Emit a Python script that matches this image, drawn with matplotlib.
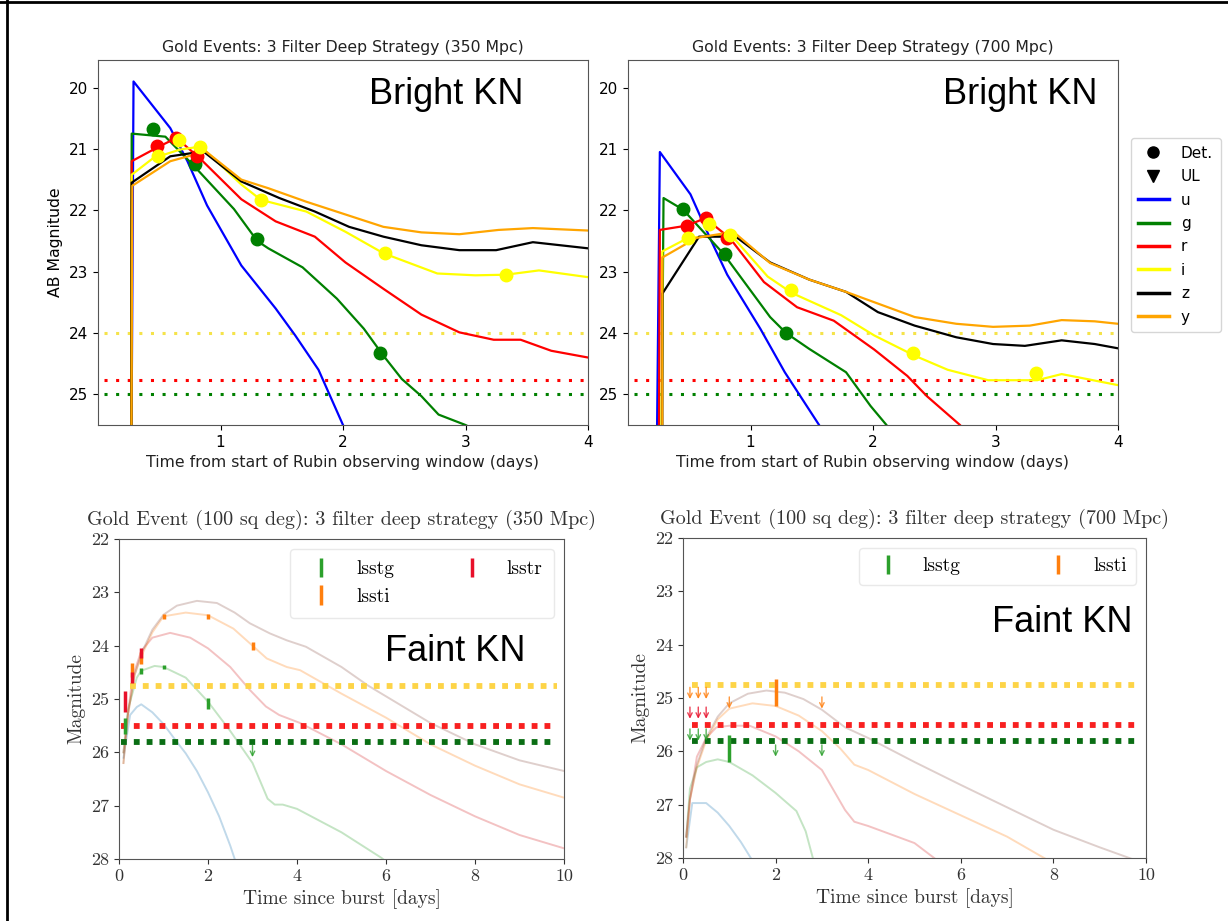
import matplotlib
matplotlib.use("Agg")
import matplotlib.pyplot as plt
from matplotlib.lines import Line2D

# ---------------- top row: bright KN, model curves (days, AB mag) ----------------
tl_u = [(0.27, 27.0), (0.29, 19.9), (0.59, 20.66), (0.73, 21.2), (0.89, 21.92), (1.17, 22.9),
        (1.45, 23.6), (1.61, 24.04), (1.8, 24.6), (2.0, 25.5), (2.1, 26.0)]
tl_g = [(0.27, 27.0), (0.275, 20.75), (0.55, 20.8), (0.78, 21.27), (1.11, 21.98), (1.3, 22.5),
        (1.39, 22.62), (1.67, 22.93), (1.95, 23.44), (2.17, 23.93), (2.33, 24.37), (2.48, 24.75),
        (2.64, 25.03), (2.78, 25.33), (3.0, 25.5), (3.2, 25.7)]
tl_r = [(0.27, 27.0), (0.275, 21.2), (0.48, 20.98), (0.64, 20.82), (0.83, 21.15), (1.17, 21.82),
        (1.45, 22.18), (1.77, 22.43), (2.02, 22.85), (2.33, 23.28), (2.64, 23.7), (2.95, 23.99),
        (3.23, 24.11), (3.45, 24.11), (3.7, 24.29), (4.0, 24.4)]
tl_i = [(0.27, 27.0), (0.275, 21.42), (0.45, 21.15), (0.67, 21.01), (0.84, 20.96), (1.17, 21.58),
        (1.33, 21.83), (1.7, 22.02), (2.02, 22.35), (2.33, 22.7), (2.77, 23.03), (3.08, 23.06),
        (3.33, 23.05), (3.6, 22.98), (4.0, 23.09)]
tl_z = [(0.27, 27.0), (0.275, 21.55), (0.59, 21.12), (0.86, 21.04), (1.17, 21.53), (1.48, 21.8),
        (1.77, 22.02), (2.05, 22.27), (2.33, 22.43), (2.64, 22.57), (2.95, 22.65), (3.25, 22.65),
        (3.55, 22.52), (4.0, 22.62)]
tl_y = [(0.27, 27.0), (0.28, 21.6), (0.59, 21.2), (0.88, 21.04), (1.17, 21.5), (1.39, 21.64),
        (1.7, 21.86), (2.33, 22.27), (2.64, 22.36), (2.95, 22.39), (3.27, 22.32), (3.55, 22.29),
        (4.0, 22.33)]

tr_u = [(0.23, 27.0), (0.26, 21.05), (0.51, 21.74), (0.68, 22.5), (0.81, 23.05), (1.08, 23.93),
        (1.28, 24.64), (1.56, 25.5), (1.7, 26.0)]
tr_g = [(0.27, 27.0), (0.29, 21.8), (0.45, 21.99), (0.78, 22.71), (1.16, 23.74), (1.29, 24.0),
        (1.48, 24.26), (1.78, 24.64), (1.98, 25.19), (2.11, 25.5), (2.2, 25.8)]
tr_r = [(0.25, 27.0), (0.26, 22.32), (0.48, 22.25), (0.63, 22.13), (0.83, 22.45), (1.11, 23.17),
        (1.38, 23.58), (1.68, 23.8), (2.01, 24.27), (2.28, 24.7), (2.44, 25.03), (2.71, 25.5),
        (2.8, 25.7)]
tr_i = [(0.27, 27.0), (0.28, 22.67), (0.49, 22.45), (0.84, 22.4), (1.14, 23.08), (1.34, 23.35),
        (1.74, 23.71), (2.01, 24.04), (2.34, 24.37), (2.61, 24.6), (2.94, 24.77), (3.34, 24.77),
        (3.54, 24.67), (4.0, 24.85)]
tr_z = [(0.28, 27.0), (0.28, 23.36), (0.58, 22.43), (0.88, 22.43), (1.16, 22.85), (1.48, 23.13),
        (1.78, 23.33), (2.04, 23.66), (2.34, 23.88), (2.68, 24.07), (2.98, 24.18), (3.24, 24.21),
        (3.54, 24.12), (3.81, 24.18), (4.0, 24.25)]
tr_y = [(0.28, 27.0), (0.28, 22.77), (0.56, 22.45), (0.86, 22.35), (1.16, 22.86), (1.48, 23.13),
        (1.78, 23.33), (2.34, 23.74), (2.68, 23.85), (2.98, 23.9), (3.28, 23.88), (3.54, 23.79),
        (3.81, 23.81), (4.0, 23.85)]

# detections
tl_det_g = [(0.45, 20.68), (0.79, 21.25), (1.3, 22.47), (2.3, 24.33)]
tl_det_r = [(0.48, 20.96), (0.64, 20.82), (0.81, 21.12)]
tl_det_i = [(0.49, 21.12), (0.66, 20.86), (0.83, 20.97), (1.33, 21.83), (2.34, 22.7), (3.33, 23.05)]
tr_det_g = [(0.45, 21.98), (0.79, 22.71), (1.29, 24.0)]
tr_det_r = [(0.48, 22.26), (0.64, 22.13), (0.81, 22.45)]
tr_det_i = [(0.49, 22.45), (0.66, 22.22), (0.83, 22.4), (1.33, 23.3), (2.33, 24.33), (3.33, 24.66)]

bright_filters = ["u", "g", "r", "i", "z", "y"]
bright_colors = ["blue", "green", "red", "yellow", "black", "orange"]
bright_depths = [24.0, 24.77, 25.0]          # i, r, g limiting mags
bright_depth_colors = ["#f5e34a", "red", "green"]

# ---------------- bottom row: faint KN, model curves ----------------
bl_u = [(0.1, 26.1), (0.25, 25.3), (0.4, 25.15), (0.5, 25.1), (0.75, 25.25), (1.0, 25.47),
        (1.25, 25.75), (1.5, 26.02), (1.75, 26.35), (2.0, 26.75), (2.25, 27.2), (2.5, 27.75),
        (2.62, 28.05)]
bl_g = [(0.1, 26.0), (0.2, 25.2), (0.4, 24.6), (0.5, 24.47), (0.8, 24.38), (1.0, 24.4), (1.5, 24.6),
        (2.0, 25.05), (2.5, 25.6), (3.0, 26.2), (3.34, 26.87), (3.5, 26.98), (3.68, 26.98),
        (4.0, 27.06), (5.0, 27.5), (5.9, 27.98), (6.0, 28.05)]
bl_r = [(0.1, 26.0), (0.3, 24.6), (0.5, 24.1), (0.75, 23.85), (1.15, 23.76), (1.6, 23.85),
        (2.0, 24.05), (2.5, 24.4), (2.94, 24.83), (3.3, 25.14), (3.6, 25.3), (4.07, 25.45),
        (5.0, 25.85), (6.0, 26.35), (7.0, 26.8), (8.0, 27.2), (9.0, 27.55), (10.0, 27.8)]
bl_i = [(0.1, 26.2), (0.2, 25.3), (0.35, 24.55), (0.5, 24.2), (0.75, 23.75), (1.0, 23.45),
        (1.5, 23.38), (2.0, 23.43), (2.57, 23.68), (3.0, 24.0), (3.32, 24.24), (3.77, 24.4),
        (4.07, 24.46), (5.0, 24.9), (6.0, 25.35), (7.0, 25.85), (8.0, 26.25), (9.0, 26.6),
        (10.0, 26.85)]
bl_z = [(0.1, 26.2), (0.2, 25.3), (0.35, 24.55), (0.5, 24.15), (0.75, 23.7), (1.0, 23.42),
        (1.3, 23.25), (1.75, 23.16), (2.2, 23.2), (2.6, 23.38), (2.94, 23.58), (3.39, 23.77),
        (3.77, 23.9), (4.2, 24.02), (5.0, 24.4), (5.6, 24.75), (6.0, 24.95), (7.0, 25.45),
        (8.0, 25.85), (9.0, 26.15), (10.0, 26.35)]

br_u = [(0.07, 27.8), (0.2, 26.97), (0.5, 26.97), (0.75, 27.15), (1.0, 27.4), (1.25, 27.7),
        (1.5, 28.05)]
br_g = [(0.07, 27.6), (0.15, 26.7), (0.3, 26.3), (0.5, 26.2), (0.75, 26.15), (1.0, 26.2),
        (1.5, 26.45), (2.0, 26.78), (2.45, 27.12), (2.65, 27.5), (2.82, 28.05)]
br_r = [(0.07, 27.6), (0.15, 26.9), (0.3, 26.1), (0.5, 25.75), (0.72, 25.55), (1.0, 25.52),
        (1.44, 25.52), (2.0, 25.72), (2.5, 26.0), (3.0, 26.35), (3.5, 27.1), (3.7, 27.32),
        (4.0, 27.4), (5.0, 27.72), (5.5, 28.05)]
br_i = [(0.07, 27.8), (0.15, 26.9), (0.3, 26.3), (0.5, 25.8), (0.75, 25.4), (1.0, 25.2),
        (1.5, 25.1), (2.0, 25.15), (2.5, 25.33), (3.0, 25.62), (3.4, 25.95), (3.7, 26.25),
        (4.0, 26.35), (5.0, 26.8), (6.0, 27.2), (7.0, 27.6), (7.9, 28.05)]
br_z = [(0.07, 27.6), (0.15, 26.9), (0.3, 26.25), (0.5, 25.75), (0.75, 25.35), (1.0, 25.1),
        (1.4, 24.92), (1.8, 24.86), (2.2, 24.9), (2.6, 25.02), (3.0, 25.22), (3.5, 25.55),
        (4.0, 25.75), (5.0, 26.2), (6.0, 26.63), (7.0, 27.05), (8.0, 27.47), (9.0, 27.8),
        (9.8, 28.05)]

faint_colors = ["tab:blue", "tab:green", "tab:red", "tab:orange", "tab:brown"]

# observed photometry (time, mag, error) and upper limits (time, mag)
bl_obs_g = [(0.13, 25.5, 0.15), (0.5, 24.48, 0.06), (1.0, 24.4, 0.04), (2.0, 25.08, 0.1)]
bl_obs_i = [(0.3, 24.45, 0.13), (0.5, 24.23, 0.12), (1.0, 23.45, 0.05), (2.0, 23.45, 0.05),
            (3.0, 24.01, 0.07)]
bl_obs_r = [(0.13, 25.05, 0.2), (0.3, 24.6, 0.1), (0.5, 24.14, 0.09)]
bl_ul_g = [(3.0, 25.87)]

br_obs_g = [(1.0, 25.95, 0.25)]
br_obs_i = [(2.0, 24.9, 0.25)]
br_ul_g = [(0.15, 25.58), (0.33, 25.58), (0.5, 25.58), (2.0, 25.88), (3.0, 25.88)]
br_ul_r = [(0.15, 25.17), (0.33, 25.17), (0.5, 25.17)]
br_ul_i = [(0.15, 24.8), (0.33, 24.8), (0.5, 24.8), (1.0, 24.98), (3.0, 24.98)]

faint_depths = [24.75, 25.5, 25.8]
faint_depth_colors = ["#fdd447", "#f82020", "#0a6e14"]

# ---------------- figure ----------------
W, H = 1228, 921
fig = plt.figure(figsize=(W / 100, H / 100), dpi=100)


def px_axes(left, top, right, bottom):
    return fig.add_axes([left / W, 1 - bottom / H, (right - left) / W, (bottom - top) / H])


ax_tl = px_axes(98, 60, 588, 425)
ax_tr = px_axes(628, 60, 1118, 425)
ax_bl = px_axes(119, 539, 564, 859)
ax_br = px_axes(683, 538, 1146, 858)

serif = "cmr10"


def bright_panel(ax, curves, dets, title, ylabel, label_x):
    for d, c in zip(bright_depths, bright_depth_colors):
        ax.hlines(d, 0.05, 4.0, colors=c, linestyles=(0, (1, 2.8)), linewidth=2.2)
    for pts, c in zip(curves, bright_colors):
        ax.plot([p[0] for p in pts], [p[1] for p in pts], color=c, lw=1.6)
    for pts, c in zip(dets, ["green", "red", "yellow"]):
        ax.plot([p[0] for p in pts], [p[1] for p in pts], "o", color=c, ms=9, ls="none")
    ax.set_xlim(0, 4)
    ax.set_ylim(25.5, 19.55)
    ax.set_xticks([1, 2, 3, 4])
    ax.set_yticks([20, 21, 22, 23, 24, 25])
    ax.tick_params(labelsize=11)
    for s in ax.spines.values():
        s.set_color("#555555")
    ax.set_title(title, fontsize=11.3, color="#222222", pad=6)
    ax.set_xlabel("Time from start of Rubin observing window (days)", fontsize=11.3, color="#222222")
    if ylabel:
        ax.set_ylabel("AB Magnitude", fontsize=11.3)
    ax.text(label_x, 0.905, "Bright KN", transform=ax.transAxes, ha="center", va="center",
            fontsize=26, family="Liberation Sans")


bright_panel(ax_tl, [tl_u, tl_g, tl_r, tl_i, tl_z, tl_y], [tl_det_g, tl_det_r, tl_det_i],
             "Gold Events: 3 Filter Deep Strategy (350 Mpc)", True, 0.71)
bright_panel(ax_tr, [tr_u, tr_g, tr_r, tr_i, tr_z, tr_y], [tr_det_g, tr_det_r, tr_det_i],
             "Gold Events: 3 Filter Deep Strategy (700 Mpc)", False, 0.80)

handles = [Line2D([], [], marker="o", color="black", ls="none", ms=8, label="Det."),
           Line2D([], [], marker="v", color="black", ls="none", ms=8, label="UL")]
handles += [Line2D([], [], color=c, lw=2.5, label=f) for f, c in zip(bright_filters, bright_colors)]
ax_tr.legend(handles=handles, loc="center left", bbox_to_anchor=(1.01, 0.52), fontsize=11,
             handlelength=2.0, labelspacing=0.55, borderpad=0.5)


def draw_ul(ax, pts, color):
    for x, y in pts:
        ax.annotate("", xy=(x, y + 0.22), xytext=(x, y),
                    arrowprops=dict(arrowstyle="->", color=color, lw=1.0, alpha=0.8,
                                    mutation_scale=8, shrinkA=0, shrinkB=0))


def faint_panel(ax, curves, title, depth_start):
    for pts, c in zip(curves, faint_colors):
        ax.plot([p[0] for p in pts], [p[1] for p in pts], color=c, lw=1.4, alpha=0.28)
    for d, c, x0 in zip(faint_depths, faint_depth_colors, depth_start):
        ax.hlines(d, x0, 9.85, colors=c, linestyles=(0, (1, 1.2)), linewidth=4.2)
    ax.set_xlim(0, 10)
    ax.set_ylim(28, 22)
    ax.set_xticks([0, 2, 4, 6, 8, 10])
    ax.set_yticks([22, 23, 24, 25, 26, 27, 28])
    for s in ax.spines.values():
        s.set_color("#555555")
    ax.tick_params(labelsize=13, colors="#333333")
    for lab in ax.get_xticklabels() + ax.get_yticklabels():
        lab.set_family(serif)
    ax.set_title(title, fontsize=14.5, family=serif, color="#333333", pad=10)
    ax.set_xlabel("Time since burst [days]", fontsize=14, family=serif, color="#333333")
    ax.set_ylabel("Magnitude", fontsize=14, family=serif, color="#333333")


faint_panel(ax_bl, [bl_u, bl_g, bl_r, bl_i, bl_z],
            "Gold Event (100 sq deg): 3 filter deep strategy (350 Mpc)", [0.25, 0.05, 0.05])
faint_panel(ax_br, [br_u, br_g, br_r, br_i, br_z],
            "Gold Event (100 sq deg): 3 filter deep strategy (700 Mpc)", [0.2, 0.2, 0.2])


def obs(ax, pts, color, label):
    return ax.errorbar([p[0] for p in pts], [p[1] for p in pts], yerr=[p[2] for p in pts],
                       fmt="none", ecolor=color, elinewidth=2.5, capsize=0, label=label)


hg = obs(ax_bl, bl_obs_g, "tab:green", "lsstg")
hi = obs(ax_bl, bl_obs_i, "tab:orange", "lssti")
hr = obs(ax_bl, bl_obs_r, "#e8102a", "lsstr")
draw_ul(ax_bl, bl_ul_g, "tab:green")
ax_bl.legend(handles=[hg, hi, hr], ncol=2, loc="upper right", prop={"family": serif, "size": 14},
             columnspacing=3.0, handlelength=2.0, borderpad=0.6, edgecolor="#e4e4e4")

hg2 = obs(ax_br, br_obs_g, "tab:green", "lsstg")
hi2 = obs(ax_br, br_obs_i, "tab:orange", "lssti")
draw_ul(ax_br, br_ul_g, "tab:green")
draw_ul(ax_br, br_ul_r, "#e8102a")
draw_ul(ax_br, br_ul_i, "tab:orange")
ax_br.legend(handles=[hg2, hi2], ncol=2, loc="upper right", prop={"family": serif, "size": 14},
             columnspacing=4.0, handlelength=2.0, borderpad=0.5, edgecolor="#e4e4e4")

ax_bl.text(0.755, 0.647, "Faint KN", transform=ax_bl.transAxes, ha="center", va="center",
           fontsize=26, family="Liberation Sans")
ax_br.text(0.82, 0.737, "Faint KN", transform=ax_br.transAxes, ha="center", va="center",
           fontsize=26, family="Liberation Sans")

# outer frame lines (left and top)
fig.add_artist(Line2D([0.0055, 0.0055], [0, 1], transform=fig.transFigure, color="black", lw=2))
fig.add_artist(Line2D([0, 1], [0.9975, 0.9975], transform=fig.transFigure, color="black", lw=2))

fig.savefig("out.png", dpi=100)
